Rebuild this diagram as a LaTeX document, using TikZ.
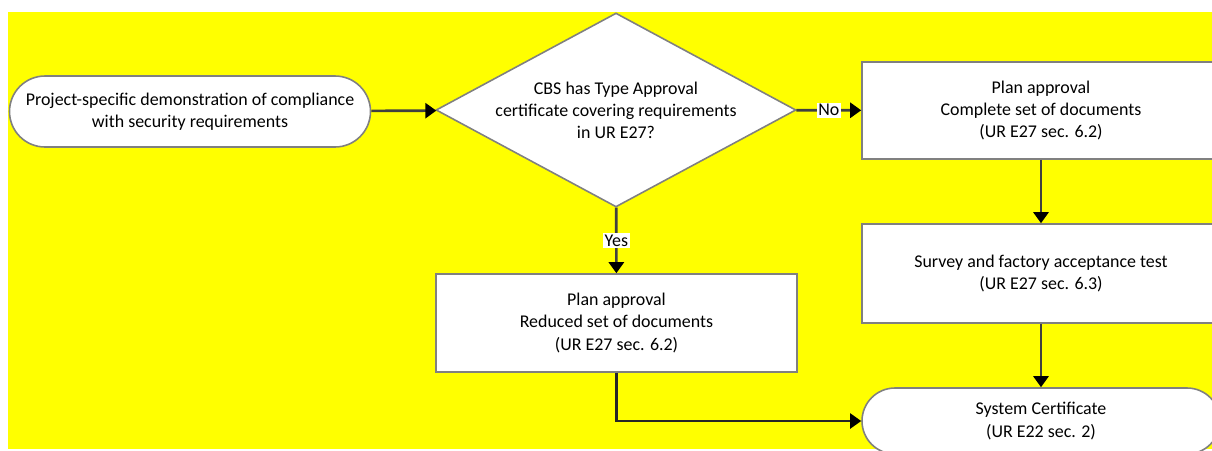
\documentclass[tikz,border=0pt]{standalone}
\usepackage{fontspec}
\setmainfont{Carlito}
\usepackage{xcolor}
\usetikzlibrary{arrows.meta,shapes.geometric}

\definecolor{bgyellow}{RGB}{255,255,0}
\definecolor{edgegray}{RGB}{128,128,128}
\definecolor{flowgray}{RGB}{64,64,64}

\begin{document}
\begin{tikzpicture}[
		font=\fontsize{10.2}{12.6}\selectfont,
		box/.style={draw=edgegray, fill=white, line width=0.9pt, align=center, inner sep=0pt},
		terminal/.style={box, rounded corners=#1},
		decision/.style={box, diamond, aspect=1.86, minimum width=7.2cm, minimum height=3.88cm},
		flow/.style={draw=flowgray, line width=1.5pt, -{Triangle[length=0.22cm,width=0.3cm,color=black]}},
		tag/.style={fill=white, inner sep=1pt}
	]
	\useasboundingbox (0,0) rectangle (24.24,-9);
	\clip (0,0) rectangle (24.24,-9);
	\fill[bgyellow] (0.16,-0.24) rectangle (24.3,-8.98);
	% flowchart nodes
	\node[terminal=0.71cm, minimum width=7.22cm, minimum height=1.42cm] (start) at (3.8,-2.23) {Project-specific demonstration of compliance\\with security requirements};
	\node[decision] (typeapp) at (12.32,-2.2) {CBS has Type Approval\\certificate covering requirements\\in UR E27?};
	\node[box, minimum width=7.16cm, minimum height=1.94cm] (fullset) at (20.82,-2.21) {Plan approval\\Complete set of documents\\(UR E27 sec. 6.2)};
	\node[box, minimum width=7.16cm, minimum height=1.98cm] (survey) at (20.82,-5.47) {Survey and factory acceptance test\\(UR E27 sec. 6.3)};
	\node[box, minimum width=7.22cm, minimum height=1.96cm] (redset) at (12.33,-6.46) {Plan approval\\Reduced set of documents\\(UR E27 sec. 6.2)};
	\node[terminal=0.66cm, minimum width=7.16cm, minimum height=1.32cm] (cert) at (20.82,-8.42) {System Certificate\\(UR E22 sec. 2)};
	% connectors
	\draw[flow] (start) -- (typeapp);
	\draw[flow] (typeapp) -- node[tag] {No} (fullset);
	\draw[flow] (typeapp) -- node[tag] {Yes} (redset);
	\draw[flow] (fullset) -- (survey);
	\draw[flow] (survey) -- (cert);
	\draw[flow, draw=black!85, line width=1.2pt] (redset.south) |- (cert.west);
\end{tikzpicture}
\end{document}
